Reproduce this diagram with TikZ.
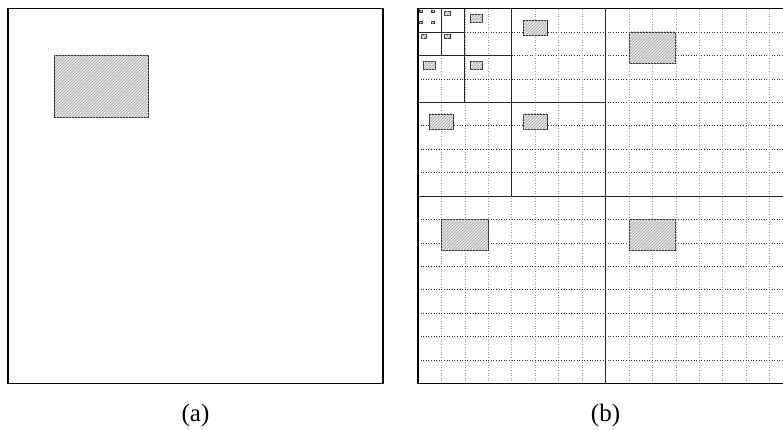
\documentclass[tikz,border=0pt]{standalone}
\usepackage{fontspec}
\setmainfont{Liberation Serif}
\usetikzlibrary{patterns}
\tikzset{
panel/.style={draw=black,line width=1.2pt},
split/.style={draw=black!85,line width=0.8pt},
gridh/.style={draw=black!80,dotted,line width=0.6pt},
gridv/.style={draw=black!40,dotted,line width=0.6pt},
hatchbox/.style={draw=black!80,line width=0.8pt,fill=black!10,postaction={pattern=north east lines,pattern color=black!35}},
caption/.style={font=\fontsize{25}{29}\selectfont}
}
% one object, placed in a cell (corner x, corner y, cell size)
\newcommand{\objbox}[3]{\draw[hatchbox] ({#1+0.125*#3},{#2+0.125*#3}) rectangle ({#1+0.375*#3},{#2+0.2917*#3});}

\begin{document}
\begin{tikzpicture}[x=1pt,y=-1pt]
\useasboundingbox (0,0) rectangle (783,429);
\clip (0,0) rectangle (783,429);
% (a)
\draw[panel] (8,8.5) rectangle (383,383.5);
\objbox{8}{8.5}{375}
% (b) grid
\foreach \i in {1,...,15}{
  \draw[gridv] ({418+\i*23.4375},8.5) -- ++(0,375);
  \draw[gridh] (418,{8.5+\i*23.4375}) -- ++(375,0);
}
% (b) quadtree
\foreach \k in {1,...,4}{
  \pgfmathsetmacro{\s}{375/2^\k}
  \draw[split] ({418+\s},8.5) -- ++(0,{2*\s});
  \draw[split] (418,{8.5+\s}) -- ++({2*\s},0);
}
\draw[panel] (418,8.5) rectangle (793,383.5);
\foreach \k in {1,...,4}{
  \pgfmathsetmacro{\s}{375/2^\k}
  \objbox{418+\s}{8.5}{\s}
  \objbox{418}{8.5+\s}{\s}
  \objbox{418+\s}{8.5+\s}{\s}
}
\foreach \dx/\dy in {0/0,1/0,0/1,1/1}{
  \objbox{418+\dx*11.71875}{8.5+\dy*11.71875}{11.71875}
}
% captions
\node[caption] (capa) at (195.5,415) {(a)};
\node[caption] (capb) at (605.5,415) {(b)};
\end{tikzpicture}
\end{document}
